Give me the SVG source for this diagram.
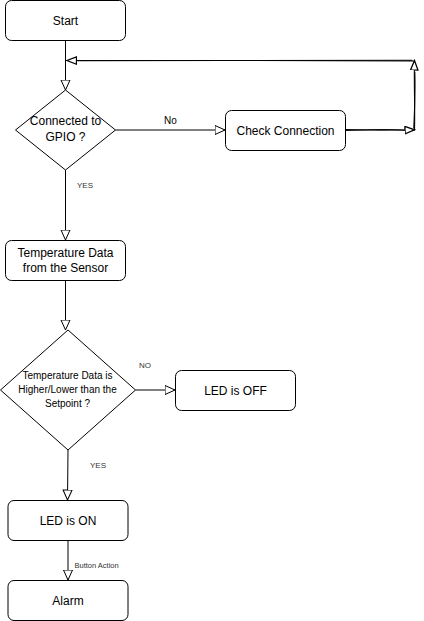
<svg xmlns="http://www.w3.org/2000/svg" width="424" height="621" viewBox="0 0 424 621">
<defs>
<marker id="open" markerUnits="userSpaceOnUse" markerWidth="12" markerHeight="11" refX="10.5" refY="5" orient="auto">
<path d="M0.5,0.5 L10.5,5 L0.5,9.5 Z" fill="#fff" stroke="#000" stroke-width="1"/>
</marker>
<marker id="sk" markerUnits="userSpaceOnUse" markerWidth="12" markerHeight="10" refX="10" refY="4.5" orient="auto">
<path d="M0.5,0.8 L10,4.5 L0.5,8.2 Z" fill="#fff" stroke="#000" stroke-width="1.3"/>
</marker>
</defs>
<style>
.box{fill:#fff;stroke:#000;stroke-width:1}
.t{font-family:"Liberation Sans",Arial,sans-serif;font-size:12px;fill:#000;text-anchor:middle}
.t10{font-family:"Liberation Sans",Arial,sans-serif;font-size:10px;fill:#000;text-anchor:middle}
.lbl{font-family:"Liberation Sans",Arial,sans-serif;font-size:8px;fill:#333}
.e{fill:none;stroke:#000;stroke-width:1}
.s{fill:none;stroke:#000;stroke-width:1.1;stroke-linecap:round}
</style>
<g id="connectors">
<path class="e" d="M65.5,40 L65.5,90" marker-end="url(#open)"/>
<path class="e" d="M115.5,130 L225,130" marker-end="url(#open)"/>
<path class="s" d="M345,130.5 C370,128.8 392,130.6 414.5,129.8" marker-end="url(#sk)"/>
<path class="s" d="M345.5,129.6 C372,130.8 390,129 404,130.2"/>
<path class="s" d="M414.5,130 C415.2,105 413.8,85 414.5,60.5" marker-end="url(#sk)"/>
<path class="s" d="M413.8,128 C414.6,110 415.3,85 414.8,72"/>
<path class="s" d="M414,61 C300,60 180,61 67,60.5" marker-end="url(#sk)"/>
<path class="s" d="M412,60.2 C320,61.3 180,59.8 78,60.8"/>
<path class="e" d="M65.5,170 L65.5,240" marker-end="url(#open)"/>
<path class="e" d="M65.5,280 L65.5,330" marker-end="url(#open)"/>
<path class="e" d="M135.5,390 L175,390" marker-end="url(#open)"/>
<path class="e" d="M68,450 L67.5,500" marker-end="url(#open)"/>
<path class="e" d="M68,540 L68,580" marker-end="url(#open)"/>
<text class="t10" x="170.5" y="123.5">No</text>
<text class="lbl" x="77" y="187.5">YES</text>
<text class="lbl" x="139" y="367.5">NO</text>
<text class="lbl" x="90" y="468">YES</text>
<text class="lbl" x="74.5" y="567.5" style="font-size:7.5px">Button Action</text>
</g>
<g id="start">
<rect class="box" x="5.5" y="0.5" width="120" height="40" rx="6"/>
<text class="t" x="65.5" y="24.5">Start</text>
</g>
<g id="gpio">
<polygon class="box" points="65.5,90 115.5,130 65.5,170 15.5,130"/>
<text class="t" x="65.5" y="125">Connected to</text>
<text class="t" x="65.5" y="140.5">GPIO ?</text>
</g>
<g id="check">
<rect class="box" x="225.5" y="110.5" width="120" height="40" rx="6"/>
<text class="t" x="285.5" y="134.5">Check Connection</text>
</g>
<g id="temp">
<rect class="box" x="5.5" y="240.5" width="120" height="40" rx="6"/>
<text class="t" x="65.5" y="257">Temperature Data</text>
<text class="t" x="65.5" y="272">from the Sensor</text>
</g>
<g id="compare">
<polygon class="box" points="68,330 135.5,390 68,450 0.5,390"/>
<text class="t10" x="67.5" y="379">Temperature Data is</text>
<text class="t10" x="67.5" y="393">Higher/Lower than the</text>
<text class="t10" x="67.5" y="407">Setpoint ?</text>
</g>
<g id="ledoff">
<rect class="box" x="175.5" y="370.5" width="120" height="40" rx="6"/>
<text class="t" x="235.5" y="394.5">LED is OFF</text>
</g>
<g id="ledon">
<rect class="box" x="8" y="500.5" width="120" height="40" rx="6"/>
<text class="t" x="68" y="524.5">LED is ON</text>
</g>
<g id="alarm">
<rect class="box" x="8" y="580.5" width="120" height="40" rx="6"/>
<text class="t" x="68" y="604.5">Alarm</text>
</g>
</svg>
